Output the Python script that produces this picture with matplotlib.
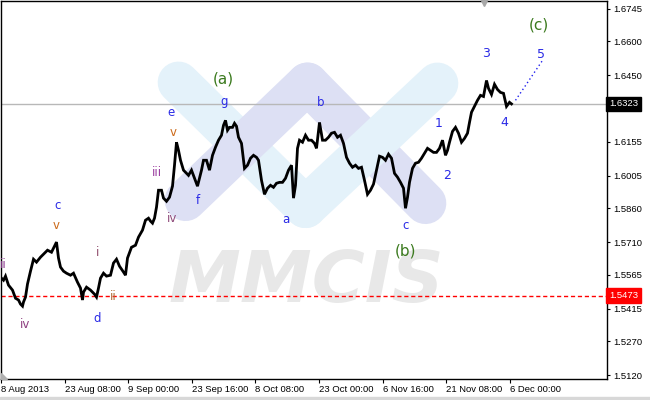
import matplotlib
matplotlib.use("Agg")
import matplotlib.pyplot as plt
import matplotlib.transforms as mtransforms
from matplotlib.patches import Polygon, Rectangle

# ---------------- data ----------------
bars = [0, 3, 5, 8, 12, 15, 18, 20, 22, 23, 25, 27, 30, 33, 36, 40, 43, 47, 51, 54,
        56, 58, 60, 63, 66, 70, 73, 77, 80, 82, 83, 86, 90, 94, 96, 98, 100, 103, 106, 110,
        113, 116, 119, 123, 125, 127, 131, 135, 138, 142, 145, 148, 150, 152, 154, 156, 158, 161, 163, 166,
        169, 172, 174, 176, 178, 180, 183, 186, 188, 191, 194, 197, 199, 201, 203, 206, 209, 212, 215, 218,
        221, 223, 225, 227, 229, 232, 234, 236, 238, 241, 244, 247, 250, 253, 256, 258, 261, 264, 267, 270,
        273, 276, 279, 282, 285, 288, 291, 293, 295, 297, 299, 302, 305, 308, 311, 314, 316, 319, 322, 325,
        328, 331, 334, 337, 340, 343, 346, 349, 352, 355, 358, 361, 364, 367, 370, 373, 376, 379, 382, 385,
        388, 391, 394, 397, 400, 403, 405, 407, 409, 412, 415, 418, 421, 424, 427, 430, 433, 436, 439, 442,
        445, 447, 449, 452, 455, 458, 461, 464, 467, 469, 471, 474, 477, 480, 483, 486, 488, 491, 494, 497,
        500, 503, 506, 509, 511]
close = [1.5554, 1.5541, 1.5559, 1.5519, 1.5497, 1.5461, 1.5453, 1.5435, 1.5426, 1.5444,
         1.5466, 1.5524, 1.5581, 1.5634, 1.5621, 1.5643, 1.5656, 1.5674, 1.5665, 1.5692,
         1.5710, 1.5639, 1.5599, 1.5581, 1.5572, 1.5563, 1.5572, 1.5532, 1.5506, 1.5453,
         1.5488, 1.5510, 1.5497, 1.5479, 1.5466, 1.5506, 1.5550, 1.5572, 1.5559, 1.5563,
         1.5617, 1.5634, 1.5603, 1.5577, 1.5563, 1.5639, 1.5687, 1.5696, 1.5732, 1.5763,
         1.5807, 1.5816, 1.5803, 1.5794, 1.5816, 1.5865, 1.5940, 1.5940, 1.5905, 1.5891,
         1.5909, 1.5958, 1.6051, 1.6153, 1.6117, 1.6073, 1.6029, 1.6015, 1.6006, 1.6029,
         1.5993, 1.5958, 1.5993, 1.6029, 1.6073, 1.6073, 1.6029, 1.6095, 1.6131, 1.6162,
         1.6184, 1.6228, 1.6250, 1.6206, 1.6219, 1.6219, 1.6237, 1.6224, 1.6175, 1.6148,
         1.6037, 1.6051, 1.6082, 1.6095, 1.6086, 1.6073, 1.5984, 1.5922, 1.5949, 1.5962,
         1.5953, 1.5971, 1.5975, 1.5975, 1.5993, 1.6029, 1.6051, 1.5905, 1.5962, 1.6126,
         1.6162, 1.6153, 1.6184, 1.6162, 1.6162, 1.6148, 1.6126, 1.6241, 1.6162, 1.6162,
         1.6175, 1.6193, 1.6197, 1.6175, 1.6184, 1.6148, 1.6086, 1.6060, 1.6042, 1.6051,
         1.6037, 1.6042, 1.5984, 1.5922, 1.5940, 1.5967, 1.6029, 1.6091, 1.6086, 1.6073,
         1.6100, 1.6082, 1.6015, 1.5998, 1.5975, 1.5949, 1.5860, 1.5909, 1.5975, 1.6037,
         1.6060, 1.6064, 1.6082, 1.6104, 1.6126, 1.6117, 1.6108, 1.6108, 1.6126, 1.6162,
         1.6095, 1.6117, 1.6153, 1.6201, 1.6219, 1.6193, 1.6153, 1.6170, 1.6193, 1.6241,
         1.6286, 1.6312, 1.6339, 1.6361, 1.6356, 1.6427, 1.6392, 1.6365, 1.6410, 1.6387,
         1.6374, 1.6370, 1.6312, 1.6330, 1.6323]

proj_bars = [515, 542]
proj_prices = [1.6339, 1.6516]

current_price = 1.6323
support_level = 1.5473

price_ticks = [1.6745, 1.6600, 1.6450, 1.6305, 1.6155, 1.6005, 1.5860,
               1.5710, 1.5565, 1.5415, 1.5270, 1.5120]
hidden_tick = 1.6305  # covered by the current-price box in the reference
date_labels = ["8 Aug 2013", "23 Aug 08:00", "9 Sep 00:00", "23 Sep 16:00",
               "8 Oct 08:00", "23 Oct 00:00", "6 Nov 16:00", "21 Nov 08:00",
               "6 Dec 00:00"]
date_bars = [0.5, 64.1, 127.7, 191.3, 254.9, 318.5, 382.1, 445.7, 509.3]

# ---------------- figure ----------------
W, H = 650, 400
fig = plt.figure(figsize=(6.5, 4.0), dpi=100)
fig.patch.set_facecolor("white")
ax = fig.add_axes([0.5 / W, 21 / H, 606 / W, 378.5 / H])
YTOP, YBOT = 1.67818, 1.51026
ax.set_xlim(0, 606)
ax.set_ylim(YBOT, YTOP)


def py(ypix):
    return YTOP - ypix * (YTOP - YBOT) / 379.0


tickfont = dict(family="Liberation Sans", size=6.8)

# watermark bands (MMCIS logo)
LB = "#e4f2fa"
LV = "#dde0f4"
bw = 30
ax.plot([178, 305], [py(82), py(207)], color=LB, lw=bw, solid_capstyle="round", zorder=0)
ax.plot([185, 307], [py(200), py(83)], color=LV, lw=bw, solid_capstyle="round", zorder=0.1)
ax.plot([307, 425], [py(83), py(203)], color=LV, lw=bw, solid_capstyle="round", zorder=0.1)
ax.plot([305, 437], [py(207), py(83)], color=LB, lw=bw, solid_capstyle="round", zorder=0.2)
ax.text(306, py(282), "MMCIS", fontsize=52, fontweight="bold", style="italic",
        color="#e8e8e8", ha="center", va="center", zorder=0.3,
        family="DejaVu Sans")

# reference lines
ax.axhline(current_price, color="#b8b8b8", lw=1, zorder=1)
ax.axhline(support_level, color="#ff0000", lw=1, ls=(0, (3, 2)), zorder=1)

# price
ax.plot(bars, close, color="black", lw=2.0, zorder=3, solid_joinstyle="miter")
ax.plot(proj_bars, proj_prices, color="#2020ee", lw=1, ls=(0, (1, 2)), zorder=3)

# wave labels
blue = "#2a2ae6"
green = "#3b7a1e"
labels = [
    ("(a)", 223, 79, green, 11), ("(b)", 405, 251, green, 11), ("(c)", 538, 25, green, 11),
    ("e", 171, 112, blue, 8.5), ("g", 224, 101, blue, 8.5), ("b", 320, 102, blue, 8.5),
    ("a", 285, 219, blue, 8.5), ("c", 405, 225, blue, 8.5), ("f", 197, 200, blue, 8.5),
    ("d", 97, 318, blue, 8.5), ("c", 57, 205, blue, 8.5),
    ("1", 438, 123, blue, 9), ("2", 447, 175, blue, 9), ("3", 486, 53, blue, 9),
    ("4", 504, 122, blue, 9), ("5", 540, 54, blue, 9),
    ("v", 173, 132, "#cc6a1a", 8.5), ("v", 56, 225, "#cc6a1a", 8.5),
    ("iii", 156, 172, "#9b3fa0", 8.5), ("iv", 172, 218, "#8e4a7a", 8.5),
    ("iv", 25, 324, "#8e3f80", 8.5), ("ii", 3, 264, "#8b3a8f", 8.5),
    ("i", 97, 252, "#8e4a6a", 8.5), ("ii", 113, 296, "#b0703a", 8.5),
]
for t, x, y, c, s in labels:
    ax.text(x, py(y), t, color=c, fontsize=s, ha="center", va="center",
            family="DejaVu Sans", zorder=4)

# axes styling
for sp in ax.spines.values():
    sp.set_color("black")
    sp.set_linewidth(1)
ax.yaxis.tick_right()
ax.set_yticks(price_ticks)
ax.set_yticklabels(["" if v == hidden_tick else f"{v:.4f}" for v in price_ticks], **tickfont)
ax.tick_params(axis="y", direction="out", length=2.5, width=0.8, pad=2.5)
ax.set_xticks(date_bars)
ax.set_xticklabels(date_labels, ha="left", **tickfont)
ax.tick_params(axis="x", direction="out", length=3, width=0.8, pad=1.5)

# price boxes
bt = mtransforms.blended_transform_factory(ax.transAxes, ax.transData)
ax.text(1.004, current_price, f"{current_price:.4f}", transform=bt, color="white",
        ha="left", va="center", zorder=6, clip_on=False,
        bbox=dict(boxstyle="square,pad=0.3", fc="black", ec="black"), **tickfont)
ax.text(1.004, support_level, f"{support_level:.4f}", transform=bt, color="white",
        ha="left", va="center", zorder=6, clip_on=False,
        bbox=dict(boxstyle="square,pad=0.3", fc="#ff0000", ec="#ff0000"), **tickfont)

# small shift markers
ax.plot([483], [py(2)], marker="v", ms=6, color="#a8a8a8", clip_on=False, zorder=5)
ax.add_patch(Polygon([[0, py(373)], [0, py(379)], [6, py(379)]], closed=True,
                     color="#b0b0b0", zorder=5, clip_on=False))

# bottom frame strip
fig.patches.append(Rectangle((0, 0), 1, 3 / H, transform=fig.transFigure,
                             color="#d8d8d8", zorder=0))

fig.savefig("out.png", dpi=100)
